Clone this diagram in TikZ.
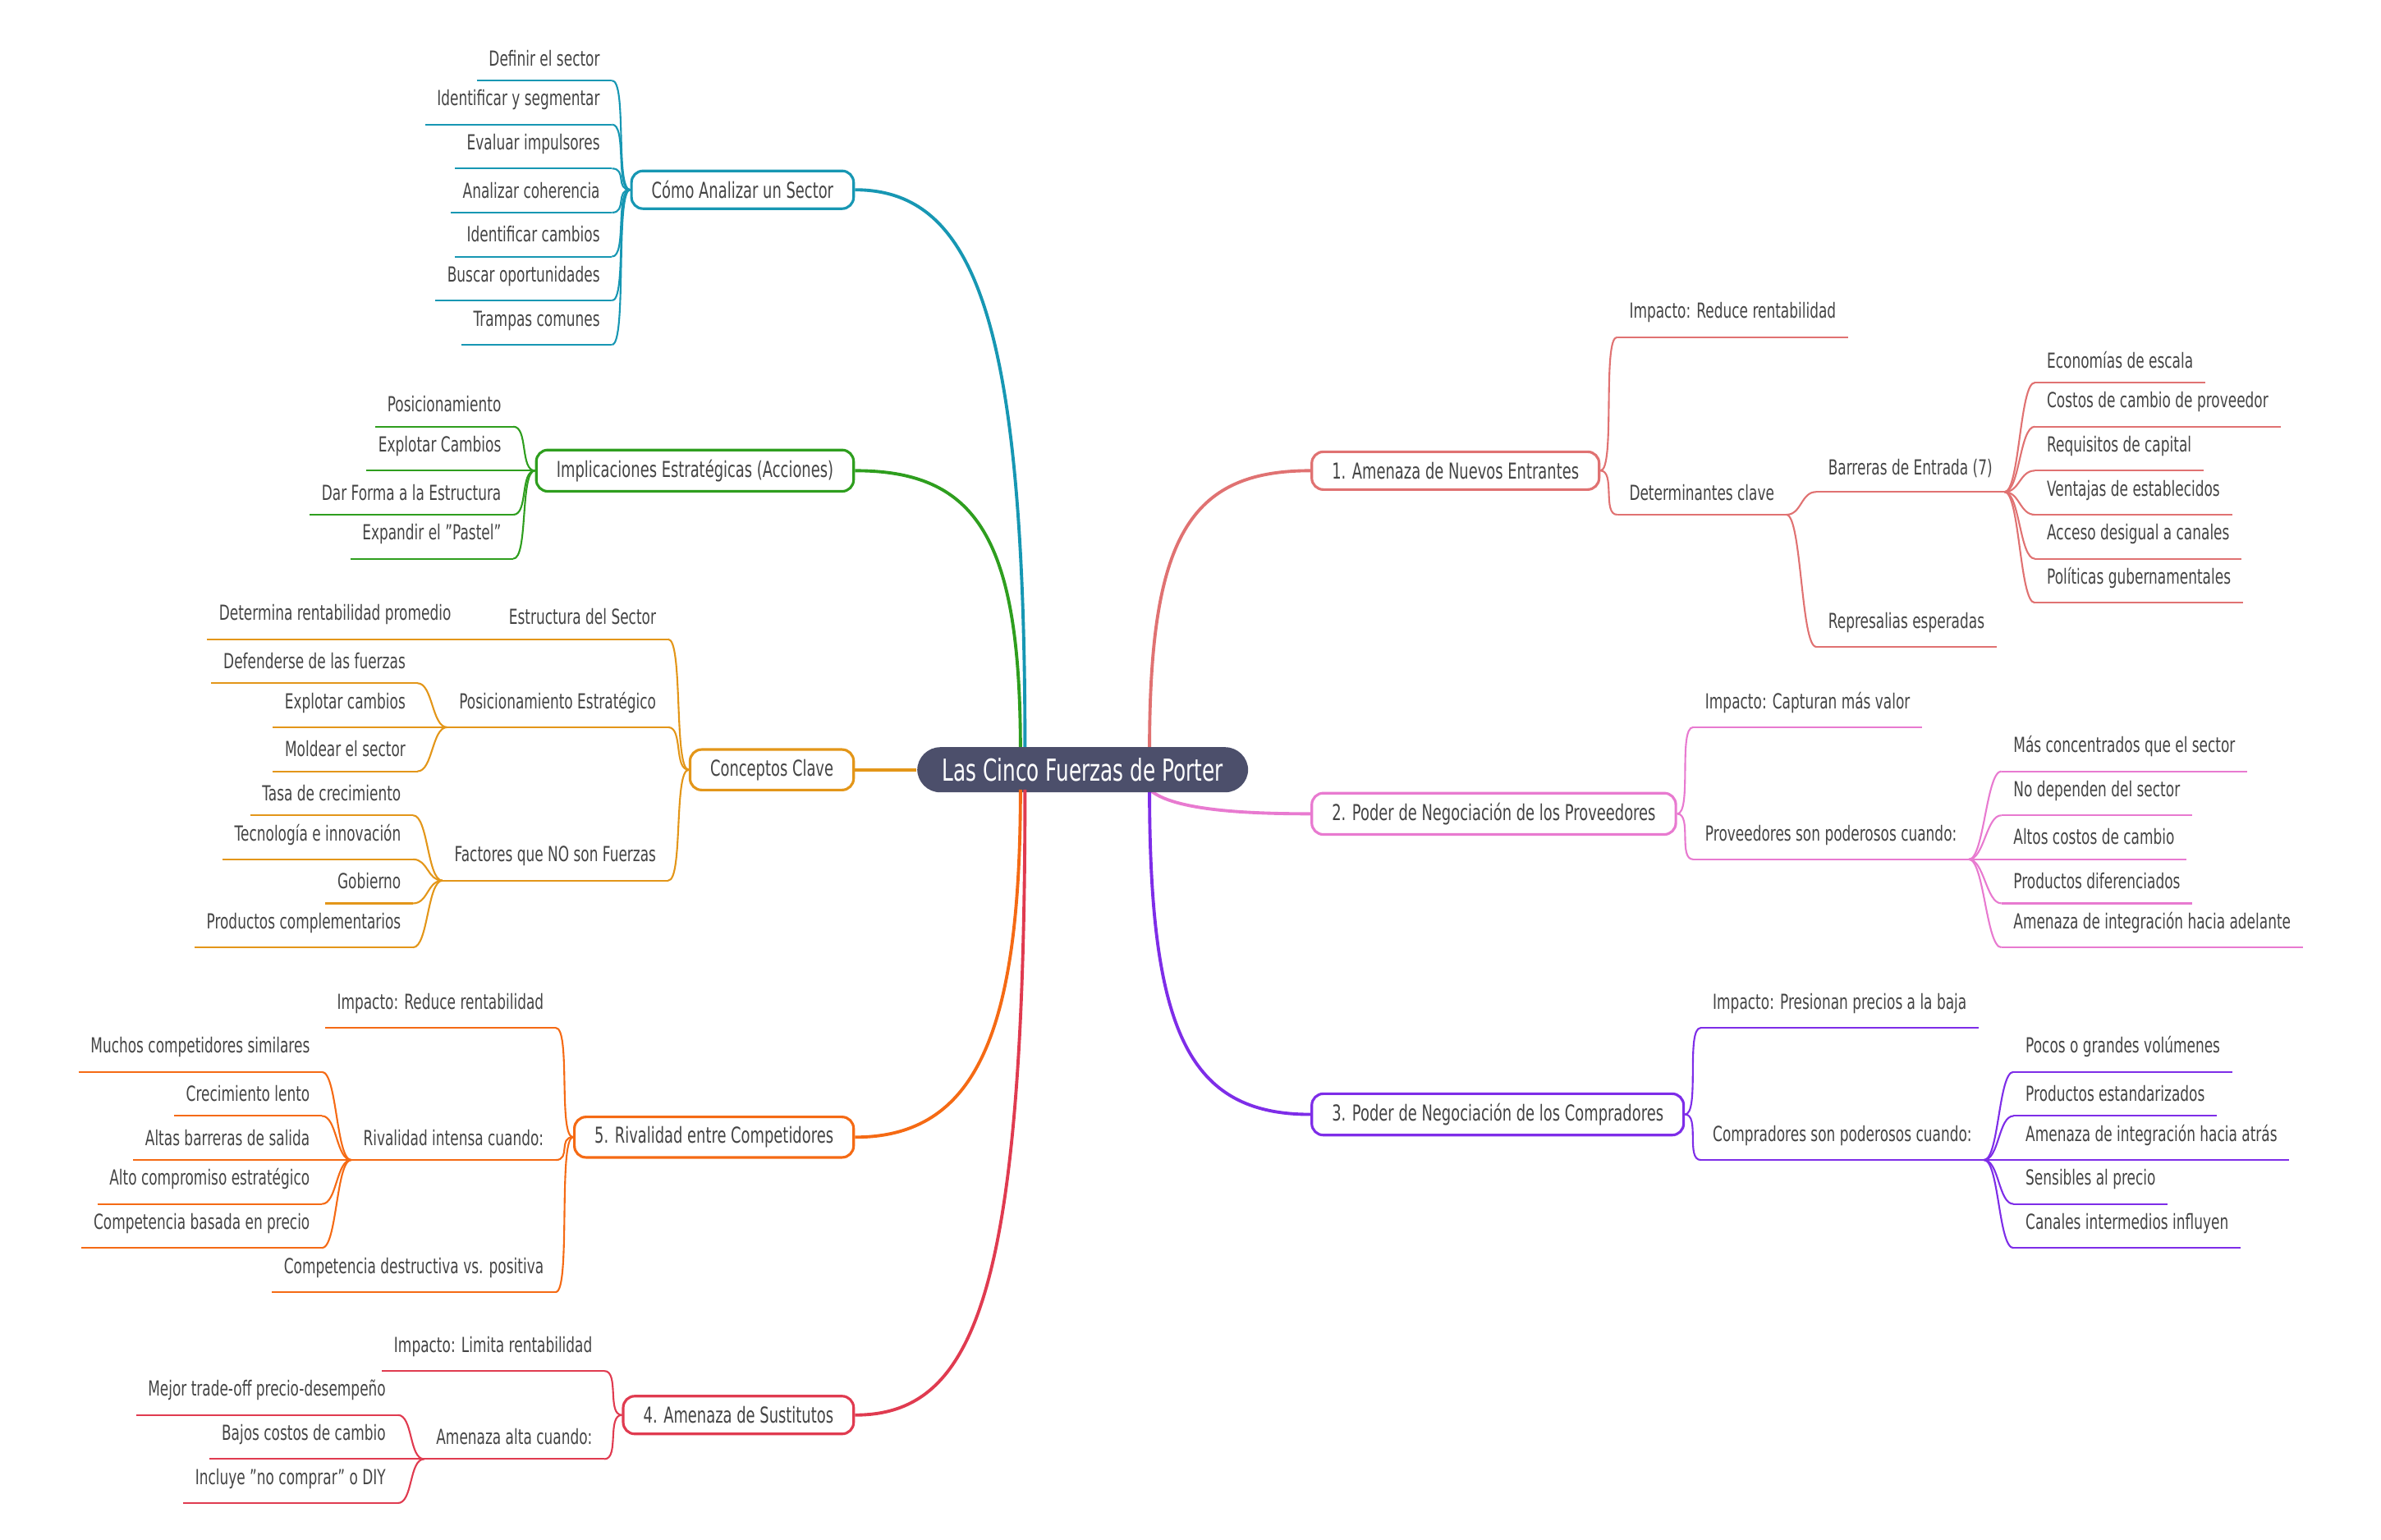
\documentclass[tikz,border=0pt]{standalone}
\usepackage{fontspec}
\setmainfont{DejaVu Sans}[FakeStretch=0.67]
\usetikzlibrary{calc}
\definecolor{txt}{HTML}{444444}
\definecolor{croot}{HTML}{4C4F6B}
\definecolor{cnew}{HTML}{E07272}
\definecolor{cprov}{HTML}{E87AD0}
\definecolor{ccomp}{HTML}{7E2DE8}
\definecolor{csec}{HTML}{1797B3}
\definecolor{cimp}{HTML}{2E9E1E}
\definecolor{ckey}{HTML}{E39619}
\definecolor{criv}{HTML}{F56A14}
\definecolor{csus}{HTML}{E03B50}
\colorlet{br}{black}
\newcommand{\leaffont}{\fontsize{7.2}{8.5}\selectfont}
\newcommand{\boxfont}{\fontsize{7.6}{9}\selectfont}
\tikzset{
	leaf/.style={font=\leaffont, text=txt, inner xsep=4pt, inner ysep=4.8pt,
		append after command={(\tikzlastnode.south west) edge[draw=br, line width=0.6pt] (\tikzlastnode.south east)}},
	box/.style={draw=br, line width=0.9pt, rounded corners=4pt, fill=white, text=txt,
		font=\boxfont, minimum height=0.46cm, inner xsep=7pt},
	rlink/.style={to path={.. controls +(#1,0) and +(-#1,0) .. (\tikztotarget)}},
	rlink/.default=10,
	llink/.style={to path={.. controls +(-#1,0) and +(#1,0) .. (\tikztotarget)}},
	llink/.default=10,
	twig/.style={draw=br, line width=0.6pt},
	trunk/.style={draw=br, line width=1.1pt},
}

\begin{document}
\begin{tikzpicture}[x=0.018495cm, y=-0.018495cm]
	\useasboundingbox (0,0) rectangle (1568,1014);
	\coordinate (rn) at (757,494);
	\coordinate (rs) at (757,520);
	\coordinate (ln) at (672,494);
	\coordinate (ls) at (672,520);

	% right side
	\begin{scope}
	\colorlet{br}{cnew}
	\node[box, anchor=west] (ent) at (863,310) {1. Amenaza de Nuevos Entrantes};
	\draw[trunk] (rn) .. controls +(0,-140) and +(-80,0) .. (ent.west);
	\node[leaf, anchor=south west] (entimp) at (1065,222) {Impacto: Reduce rentabilidad};
	\node[leaf, anchor=south west] (entdet) at (1065,339) {Determinantes clave};
	\node[leaf, anchor=south west] (entbar) at (1196,324) {Barreras de Entrada (7)};
	\node[leaf, anchor=south west] (entrep) at (1196,426) {Represalias esperadas};
	\draw[twig] (ent.east) to[rlink] (entimp.south west);
	\draw[twig] (ent.east) to[rlink] (entdet.south west);
	\draw[twig] (entdet.south east) to[rlink] (entbar.south west);
	\draw[twig] (entdet.south east) to[rlink] (entrep.south west);
	\foreach \t [count=\i] in {Economías de escala, Costos de cambio de proveedor,
		Requisitos de capital, Ventajas de establecidos, Acceso desigual a canales,
		Políticas gubernamentales} {
		\node[leaf, anchor=south west] (bar\i) at (1340,223+29*\i) {\t};
		\draw[twig] (entbar.south east) to[rlink] (bar\i.south west);
	}
	\end{scope}

	\begin{scope}
	\colorlet{br}{cprov}
	\node[box, anchor=west] (prov) at (863,536) {2. Poder de Negociación de los Proveedores};
	\draw[trunk] (rs) .. controls +(15,14) and +(-40,0) .. (prov.west);
	\node[leaf, anchor=south west] (provimp) at (1115,479) {Impacto: Capturan más valor};
	\node[leaf, anchor=south west] (provcon) at (1115,566) {Proveedores son poderosos cuando:};
	\draw[twig] (prov.east) to[rlink] (provimp.south west);
	\draw[twig] (prov.east) to[rlink] (provcon.south west);
	\foreach \t [count=\i] in {Más concentrados que el sector, No dependen del sector,
		Altos costos de cambio, Productos diferenciados,
		Amenaza de integración hacia adelante} {
		\node[leaf, anchor=south west] (prov\i) at (1318,479+29*\i) {\t};
		\draw[twig] (provcon.south east) to[rlink] (prov\i.south west);
	}
	\end{scope}

	\begin{scope}
	\colorlet{br}{ccomp}
	\node[box, anchor=west] (comp) at (863,734) {3. Poder de Negociación de los Compradores};
	\draw[trunk] (rs) .. controls +(0,160) and +(-80,0) .. (comp.west);
	\node[leaf, anchor=south west] (compimp) at (1120,677) {Impacto: Presionan precios a la baja};
	\node[leaf, anchor=south west] (compcon) at (1120,764) {Compradores son poderosos cuando:};
	\draw[twig] (comp.east) to[rlink] (compimp.south west);
	\draw[twig] (comp.east) to[rlink] (compcon.south west);
	\foreach \t [count=\i] in {Pocos o grandes volúmenes, Productos estandarizados,
		Amenaza de integración hacia atrás, Sensibles al precio,
		Canales intermedios influyen} {
		\node[leaf, anchor=south west] (comp\i) at (1326,677+29*\i) {\t};
		\draw[twig] (compcon.south east) to[rlink] (comp\i.south west);
	}
	\end{scope}

	% left side
	\begin{scope}
	\colorlet{br}{csec}
	\node[box, anchor=east] (sec) at (563,125) {Cómo Analizar un Sector};
	\draw[trunk] ($(ln)+(3,0)$) .. controls +(0,-280) and +(80,0) .. (sec.east);
	\foreach \t [count=\i] in {Definir el sector, Identificar y segmentar,
		Evaluar impulsores, Analizar coherencia, Identificar cambios,
		Buscar oportunidades, Trampas comunes} {
		\node[leaf, anchor=south east] (sec\i) at (403,24+29*\i) {\t};
		\draw[twig] (sec.west) to[llink] (sec\i.south east);
	}
	\end{scope}

	\begin{scope}
	\colorlet{br}{cimp}
	\node[box, anchor=east] (imp) at (563,310) {Implicaciones Estratégicas (Acciones)};
	\draw[trunk] (ln) .. controls +(0,-140) and +(80,0) .. (imp.east);
	\foreach \t [count=\i] in {Posicionamiento, Explotar Cambios,
		Dar Forma a la Estructura, Expandir el "Pastel"} {
		\node[leaf, anchor=south east] (imp\i) at (338,252+29*\i) {\t};
		\draw[twig] (imp.west) to[llink] (imp\i.south east);
	}
	\end{scope}

	\begin{scope}
	\colorlet{br}{ckey}
	\node[box, anchor=east] (key) at (563,507) {Conceptos Clave};
	\node[fill=croot, text=white, rounded corners=8pt, minimum height=0.55cm,
		minimum width=4.03cm, font=\fontsize{10.5}{12}\selectfont] (root) at (713,507)
		{Las Cinco Fuerzas de Porter};
	\draw[trunk] (root.west) -- (key.east);
	\node[leaf, anchor=south east] (keyest) at (440,421) {Estructura del Sector};
	\node[leaf, anchor=south east] (keypos) at (440,479) {Posicionamiento Estratégico};
	\node[leaf, anchor=south east] (keyfac) at (440,580) {Factores que NO son Fuerzas};
	\draw[twig] (key.west) to[llink] (keyest.south east);
	\draw[twig] (key.west) to[llink] (keypos.south east);
	\draw[twig] (key.west) to[llink] (keyfac.south east);
	\node[leaf, anchor=south east] (keyest1) at (305,421) {Determina rentabilidad promedio};
	\draw[twig] (keyest.south west) -- (keyest1.south east);
	\foreach \t [count=\i] in {Defenderse de las fuerzas, Explotar cambios,
		Moldear el sector} {
		\node[leaf, anchor=south east] (keypos\i) at (275,421+29*\i) {\t};
		\draw[twig] (keypos.south west) to[llink] (keypos\i.south east);
	}
	\foreach \t [count=\i] in {Tasa de crecimiento, Tecnología e innovación,
		Gobierno, Productos complementarios} {
		\node[leaf, anchor=south east] (keyfac\i) at (272,508+29*\i) {\t};
		\draw[twig] (keyfac.south west) to[llink] (keyfac\i.south east);
	}
	\end{scope}

	\begin{scope}
	\colorlet{br}{criv}
	\node[box, anchor=east] (riv) at (563,749) {5. Rivalidad entre Competidores};
	\draw[trunk] (ls) .. controls +(0,160) and +(80,0) .. (riv.east);
	\node[leaf, anchor=south east] (rivimp) at (366,677) {Impacto: Reduce rentabilidad};
	\node[leaf, anchor=south east] (rivcon) at (366,764) {Rivalidad intensa cuando:};
	\node[leaf, anchor=south east] (rivdes) at (366,851) {Competencia destructiva vs. positiva};
	\draw[twig] (riv.west) to[llink] (rivimp.south east);
	\draw[twig] (riv.west) to[llink] (rivcon.south east);
	\draw[twig] (riv.west) to[llink] (rivdes.south east);
	\foreach \t [count=\i] in {Muchos competidores similares, Crecimiento lento,
		Altas barreras de salida, Alto compromiso estratégico,
		Competencia basada en precio} {
		\node[leaf, anchor=south east] (riv\i) at (212,677+29*\i) {\t};
		\draw[twig] (rivcon.south west) to[llink] (riv\i.south east);
	}
	\end{scope}

	\begin{scope}
	\colorlet{br}{csus}
	\node[box, anchor=east] (sus) at (563,932) {4. Amenaza de Sustitutos};
	\draw[trunk] ($(ls)+(3,0)$) .. controls +(0,330) and +(80,0) .. (sus.east);
	\node[leaf, anchor=south east] (susimp) at (398,903) {Impacto: Limita rentabilidad};
	\node[leaf, anchor=south east] (suscon) at (398,961) {Amenaza alta cuando:};
	\draw[twig] (sus.west) to[llink] (susimp.south east);
	\draw[twig] (sus.west) to[llink] (suscon.south east);
	\foreach \t [count=\i] in {Mejor trade-off precio-desempeño, Bajos costos de cambio,
		Incluye "no comprar" o DIY} {
		\node[leaf, anchor=south east] (sus\i) at (262,903+29*\i) {\t};
		\draw[twig] (suscon.south west) to[llink] (sus\i.south east);
	}
	\end{scope}
\end{tikzpicture}
\end{document}
